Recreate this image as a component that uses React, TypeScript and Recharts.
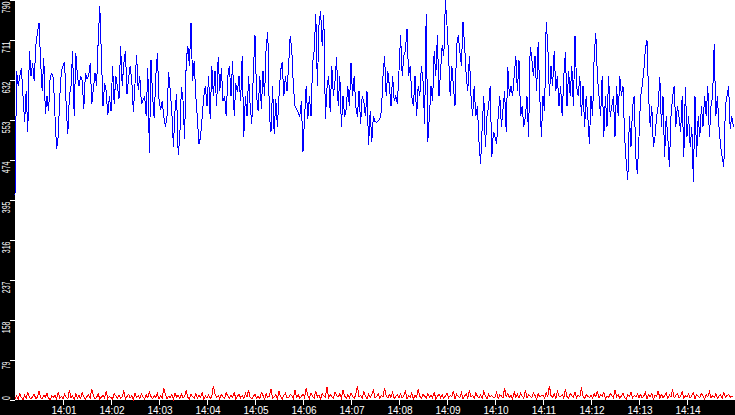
import React from "react";
import { LineChart, Line, XAxis, YAxis, CartesianGrid } from "recharts";

// seconds after 14:00:00, one sample every 2 s
const sampleStepSeconds = 2;

const blueValues: number[] = [
  // 14:00:00 - 14:05:00
  405, 650, 620, 640, 655, 600, 550, 610, 530, 690,
  640, 665, 630, 700, 725, 745, 670, 610, 675, 565,
  600, 570, 640, 645, 635, 560, 495, 520, 600, 650,
  660, 668, 580, 525, 600, 620, 690, 560, 685, 640,
  620, 640, 630, 575, 645, 635, 640, 665, 585, 615,
  645, 620, 710, 778, 680, 580, 625, 610, 562, 600,
  570, 660, 585, 640, 620, 595, 700, 620, 665, 690,
  605, 635, 660, 630, 568, 625, 682, 612, 640, 585,
  592, 600, 560, 655, 487, 672, 600, 556, 640, 685,
  595, 572, 590, 560, 540, 560, 648, 612, 570, 500,
  570, 605, 483, 520, 618, 592, 515, 668, 700, 660,
  745, 630, 670, 600, 555, 505, 520, 560, 600, 620,
  580, 640, 555, 660, 600, 650, 580, 678, 610, 655,
  590, 600, 560, 640, 660, 600, 670, 560, 625, 608,
  640, 590, 680, 520, 600, 560, 640, 580, 545, 650,
  // 14:05:00 - 14:10:00
  720, 600, 570, 640, 575, 650, 600, 700, 726, 560,
  530, 620, 525, 595, 540, 600, 650, 668, 600, 640,
  610, 660, 719, 690, 620, 580, 575, 568, 560, 590,
  490, 560, 620, 555, 600, 560, 665, 690, 762, 620,
  740, 768, 700, 760, 555, 615, 640, 568, 660, 600,
  630, 678, 580, 640, 540, 600, 560, 575, 620, 580,
  666, 600, 640, 580, 560, 610, 545, 600, 590, 560,
  610, 503, 570, 510, 560, 550, 548, 552, 555, 570,
  640, 679, 600, 650, 620, 580, 640, 590, 600, 585,
  650, 721, 640, 680, 690, 733, 640, 660, 600, 580,
  640, 560, 620, 600, 660, 630, 545, 762, 510, 560,
  620, 590, 690, 640, 720, 600, 650, 700, 680, 790,
  740, 680, 600, 660, 620, 580, 700, 720, 690, 660,
  747, 700, 640, 610, 680, 600, 560, 620, 560, 580,
  510, 467, 540, 600, 500, 560, 580, 620, 480, 530,
  // 14:10:00 - 14:15:00
  520, 506, 560, 600, 540, 575, 610, 530, 658, 600,
  620, 600, 640, 680, 610, 671, 560, 580, 540, 560,
  600, 520, 698, 675, 640, 680, 610, 707, 600, 520,
  600, 570, 747, 700, 600, 660, 620, 690, 610, 640,
  580, 620, 560, 640, 688, 580, 650, 600, 660, 580,
  719, 620, 600, 640, 560, 620, 540, 600, 560, 506,
  600, 560, 680, 725, 640, 600, 560, 640, 520, 600,
  540, 640, 560, 580, 600, 520, 620, 560, 640, 600,
  620, 520, 470, 434, 560, 500, 580, 600, 480, 447,
  520, 600, 620, 650, 694, 710, 600, 540, 580, 500,
  520, 560, 580, 638, 540, 600, 480, 560, 520, 460,
  560, 600, 620, 540, 580, 560, 530, 600, 480, 618,
  520, 560, 500, 540, 430, 600, 480, 560, 520, 580,
  540, 600, 560, 620, 520, 580, 600, 704, 560, 600,
  540, 500, 480, 460, 580, 600, 620, 536, 560, 540,
];

const redValues: number[] = [
  3, 8, 2, 12, 5, 1, 9, 4, 14, 6, 2, 7, 11, 3, 5, 18, 4, 2, 9, 6, 13, 3, 1, 8, 5, 10, 2, 16, 4, 7,
  3, 11, 6, 2, 20, 5, 8, 1, 12, 4, 9, 3, 15, 6, 2, 7, 10, 4, 22, 8, 3, 5, 12, 2, 6, 9, 4, 17, 3, 7,
  5, 2, 13, 8, 4, 10, 3, 6, 19, 2, 7, 11, 4, 9, 1, 14, 5, 8, 3, 12, 6, 2, 10, 4, 16, 7, 3, 9, 5, 13,
  2, 8, 4, 24, 11, 3, 7, 5, 10, 2, 14, 6, 9, 3, 12, 4, 8, 18, 5, 2, 11, 7, 4, 13, 3, 9, 6, 15, 2, 8,
  4, 10, 3, 7, 28, 12, 5, 9, 2, 11, 6, 4, 14, 8, 3, 10, 5, 16, 2, 7, 12, 4, 9, 3, 13, 6, 20, 5, 2, 8,
  11, 4, 7, 3, 15, 9, 2, 12, 5, 8, 22, 4, 6, 10, 3, 17, 7, 2, 9, 13, 5, 4, 11, 8, 3, 19, 6, 10, 4, 7,
  12, 5, 23, 9, 3, 14, 7, 4, 18, 6, 10, 2, 13, 8, 5, 26, 4, 11, 7, 3, 15, 9, 6, 12, 4, 20, 8, 3, 10, 5,
  14, 7, 3, 11, 28, 6, 9, 4, 16, 8, 2, 12, 5, 10, 19, 4, 7, 13, 3, 9, 6, 24, 8, 4, 11, 5, 15, 3, 7, 10,
  5, 12, 4, 9, 17, 3, 8, 6, 14, 2, 10, 5, 21, 7, 4, 11, 8, 3, 13, 6, 9, 4, 16, 2, 7, 12, 5, 10, 3, 8,
  13, 4, 9, 6, 18, 3, 11, 7, 5, 15, 2, 8, 12, 4, 20, 6, 9, 3, 14, 7, 5, 10, 4, 17, 8, 2, 11, 6, 9, 4,
  6, 15, 3, 10, 8, 4, 24, 7, 12, 5, 9, 2, 16, 6, 11, 4, 13, 8, 3, 19, 5, 10, 7, 4, 14, 9, 2, 12, 6, 8,
  10, 4, 14, 7, 28, 9, 5, 12, 3, 18, 8, 6, 11, 4, 22, 7, 3, 13, 9, 5, 16, 4, 10, 6, 25, 8, 3, 11, 7, 5,
  9, 3, 12, 6, 18, 4, 10, 7, 15, 2, 8, 5, 13, 9, 4, 20, 6, 11, 3, 8, 14, 5, 2, 10, 7, 16, 4, 9, 6, 12,
  5, 11, 4, 8, 15, 3, 10, 6, 13, 2, 9, 7, 18, 4, 11, 5, 8, 14, 3, 10, 6, 21, 4, 9, 12, 5, 7, 16, 3, 8,
  6, 12, 4, 9, 14, 3, 10, 7, 5, 13, 8, 2, 11, 6, 17, 4, 9, 5, 12, 3, 8, 10, 4, 15, 6, 9, 11, 5, 8, 7,
];

const yTicks = [0, 79, 158, 237, 316, 395, 474, 553, 632, 711, 790];
const xTickSeconds = [60, 120, 180, 240, 300, 360, 420, 480, 540, 600, 660, 720, 780, 840];
const xTickLabels = [
  "14:01", "14:02", "14:03", "14:04", "14:05", "14:06", "14:07",
  "14:08", "14:09", "14:10", "14:11", "14:12", "14:13", "14:14",
];

const table = blueValues.map((v, i) => ({
  t: i * sampleStepSeconds,
  blue: v,
  red: redValues[i],
}));

const PLOT_BOTTOM = 400;

const YTick = (props: any) => {
  const { y, payload } = props;
  const label = String(payload.value);
  const len = label.length * 3.9;
  const bx = 9.6;
  let endY = y + 1.5;
  if (endY + len > PLOT_BOTTOM) endY = PLOT_BOTTOM - len;
  return (
    <text
      x={bx}
      y={endY}
      transform={`rotate(-90, ${bx}, ${endY})`}
      textAnchor="end"
      fill="#ffffff"
      fontSize={11.5}
      fontFamily="'Liberation Sans', Arial, sans-serif"
      textLength={len}
      lengthAdjust="spacingAndGlyphs"
    >
      {label}
    </text>
  );
};

const XTick = (props: any) => {
  const { x, payload } = props;
  const idx = xTickSeconds.indexOf(payload.value);
  return (
    <text
      x={x + 1}
      y={413.5}
      textAnchor="middle"
      fill="#ffffff"
      fontSize={10}
      fontFamily="'Liberation Sans', Arial, sans-serif"
    >
      {idx >= 0 ? xTickLabels[idx] : ""}
    </text>
  );
};

export default function App() {
  return (
    <div
      style={{
        position: "absolute",
        left: 0,
        top: 0,
        width: 735,
        height: 415,
        background: "#000000",
        overflow: "hidden",
      }}
    >
      <LineChart
        width={735}
        height={415}
        data={table}
        margin={{ top: 0, right: 0, bottom: 0, left: 0 }}
      >
        <CartesianGrid fill="#ffffff" stroke="none" horizontal={false} vertical={false} />
        <XAxis
          dataKey="t"
          type="number"
          domain={[0, 900]}
          ticks={xTickSeconds}
          interval={0}
          height={15}
          tickSize={5}
          axisLine={false}
          tickLine={{ stroke: "#ffffff", shapeRendering: "crispEdges" }}
          tick={<XTick />}
        />
        <YAxis
          type="number"
          domain={[0, 790]}
          ticks={yTicks}
          interval={0}
          width={15}
          tickSize={5}
          axisLine={false}
          tickLine={{ stroke: "#ffffff", shapeRendering: "crispEdges" }}
          tick={<YTick />}
        />
        <Line
          dataKey="red"
          type="linear"
          stroke="#ff0000"
          strokeWidth={1}
          dot={false}
          activeDot={false}
          isAnimationActive={false}
          shapeRendering="crispEdges"
        />
        <Line
          dataKey="blue"
          type="linear"
          stroke="#0000ff"
          strokeWidth={1}
          dot={false}
          activeDot={false}
          isAnimationActive={false}
          shapeRendering="crispEdges"
        />
      </LineChart>
    </div>
  );
}
